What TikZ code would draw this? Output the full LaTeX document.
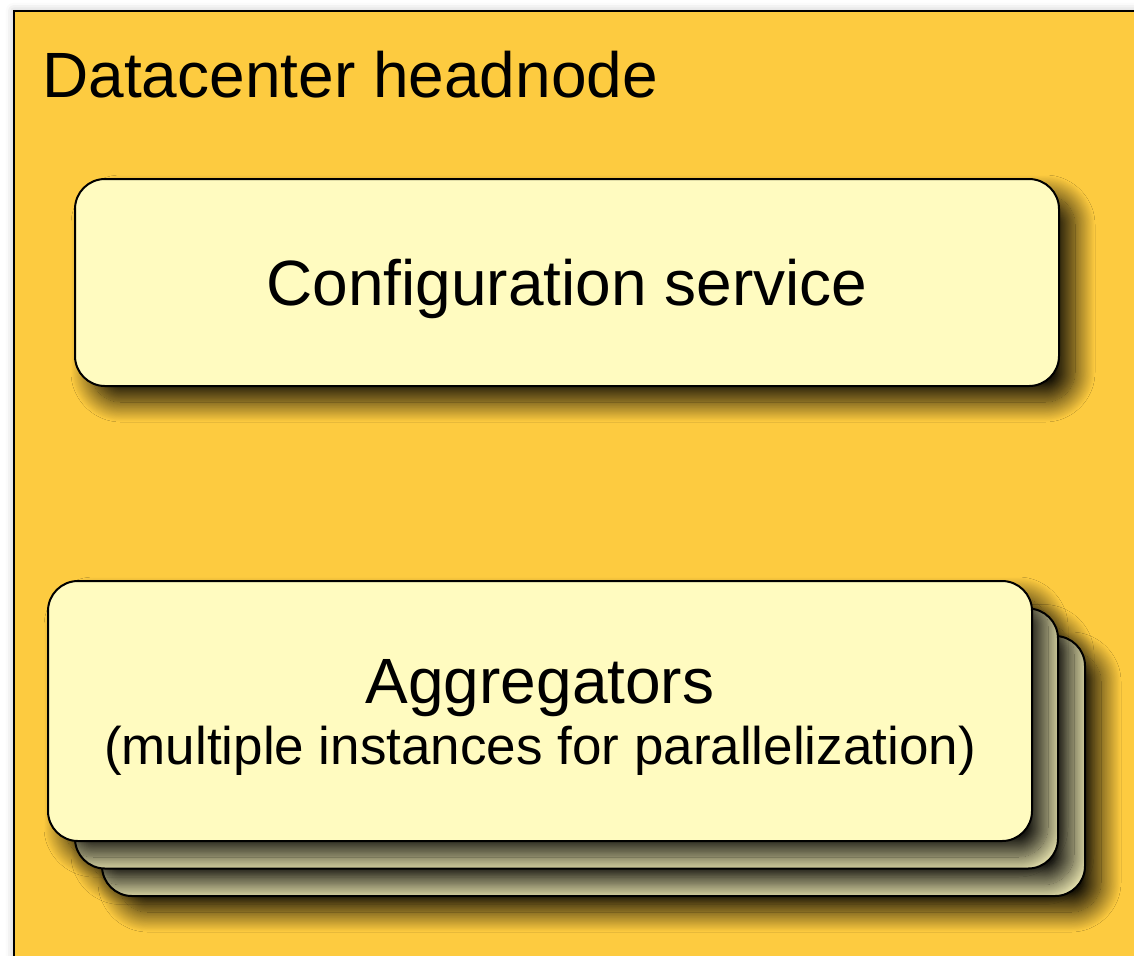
\documentclass[tikz,border=0pt]{standalone}
\usepackage{fontspec}
\setmainfont{Liberation Sans}
\usetikzlibrary{shadows.blur}
\definecolor{headfill}{RGB}{253,203,64}
\definecolor{boxfill}{RGB}{255,251,192}
\tikzset{
  frame/.style={draw=black, line width=0.8pt, fill=headfill,
    blur shadow={shadow xshift=0pt, shadow yshift=0pt, shadow opacity=25,
      shadow blur radius=4pt}},
  service/.style={draw=black, line width=1pt, fill=boxfill,
    rounded corners=15pt, inner sep=0pt,
    blur shadow={shadow xshift=8pt, shadow yshift=-8pt, shadow opacity=90,
      shadow blur radius=10pt, shadow blur steps=24}},
  bigtext/.style={font=\fontsize{32}{38}\selectfont},
}
\begin{document}
\begin{tikzpicture}[x=0.5pt, y=-0.5pt]
  \useasboundingbox (0,0) rectangle (1134,955);
  % headnode frame, running off the right and bottom edges
  \node[frame, anchor=north west, minimum width=570pt, minimum height=480pt,
        inner sep=0pt] (head) at (13,10) {};
  \node[bigtext, anchor=base west, inner sep=0pt] (headlabel) at (42,97)
        {Datacenter headnode};

  % configuration service
  \node[service, bigtext, text depth=0pt, minimum width=492pt,
        minimum height=103.5pt] (config) at (567,282.5) {Configuration service};

  % stacked aggregator instances, back to front
  \node[service, minimum width=491.5pt, minimum height=130pt]
        (agg3) at (593.5,766) {};
  \node[service, minimum width=491.5pt, minimum height=130pt]
        (agg2) at (566.5,738.5) {};
  \node[service, minimum width=492pt, minimum height=130pt]
        (agg1) at (540,711) {};
  \node[bigtext, anchor=base, inner sep=0pt] (aggtitle) at (540,703)
        {Aggregators};
  \node[font=\fontsize{26.5}{30}\selectfont, anchor=base, inner sep=0pt]
        (aggnote) at (540,764) {(multiple instances for parallelization)};
\end{tikzpicture}
\end{document}
